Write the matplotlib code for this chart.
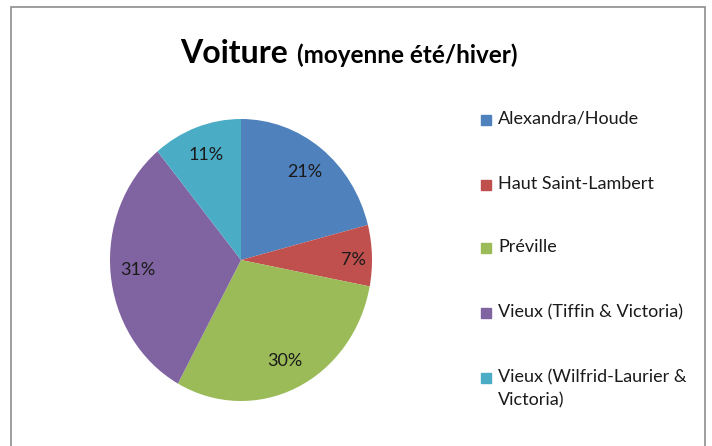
import matplotlib.pyplot as plt
from matplotlib.patches import Rectangle
import numpy as np

# Données
labels = ["Alexandra/Houde", "Haut Saint-Lambert", "Préville",
          "Vieux (Tiffin & Victoria)", "Vieux (Wilfrid-Laurier &\nVictoria)"]
values = [21, 7, 30, 31, 11]
colors = ["#4F81BD", "#C0504D", "#9BBB59", "#8064A2", "#4BACC6"]

plt.rcParams['font.family'] = ['Lato', 'DejaVu Sans']

W, H = 712, 446
fig = plt.figure(figsize=(W / 100, H / 100), dpi=100)

# cadre du graphique
fig.patches.append(Rectangle((11 / W, -0.05), 694 / W, 1.05 - 7 / H,
                             transform=fig.transFigure, fill=False,
                             edgecolor="#8c8c8c", linewidth=1.2))

# camembert (légèrement ovale comme l'original) : centre (241, 260)
cx, cy, rx, ry = 241, 260, 131, 141
ax = fig.add_axes([(cx - rx) / W, 1 - (cy + ry) / H, 2 * rx / W, 2 * ry / H])
wedges, texts, autotexts = ax.pie(values, colors=colors, startangle=90,
                                  counterclock=False, autopct="%d%%",
                                  pctdistance=0.79, radius=1,
                                  textprops=dict(fontsize=13, color="#1a1a1a"))
# le petit secteur a son étiquette un peu plus vers l'extérieur
theta = np.deg2rad(90 - 360 * (values[0] + values[1] / 2) / sum(values))
autotexts[1].set_position((0.86 * np.cos(theta), 0.86 * np.sin(theta) - 0.03))
ax.set_xlim(-1, 1)
ax.set_ylim(-1, 1)
ax.set_aspect("auto")

# titre
fig.text(180 / W, 1 - 63 / H, "Voiture", fontsize=23, fontweight="bold",
         ha="left", va="baseline")
fig.text(297 / W, 1 - 63 / H, "(moyenne été/hiver)", fontsize=17.5,
         fontweight="bold", ha="left", va="baseline")

# légende
rows = [120, 185, 248, 313, 378]
for lab, col, y in zip(labels, colors, rows):
    fig.patches.append(Rectangle((481 / W, 1 - (y + 5) / H), 10 / W, 10 / H,
                                 transform=fig.transFigure, color=col))
    fig.text(498 / W, 1 - (y - 9) / H, lab, fontsize=13, ha="left",
             va="top", linespacing=1.55, color="#1a1a1a")

fig.savefig("out.png", dpi=100)
